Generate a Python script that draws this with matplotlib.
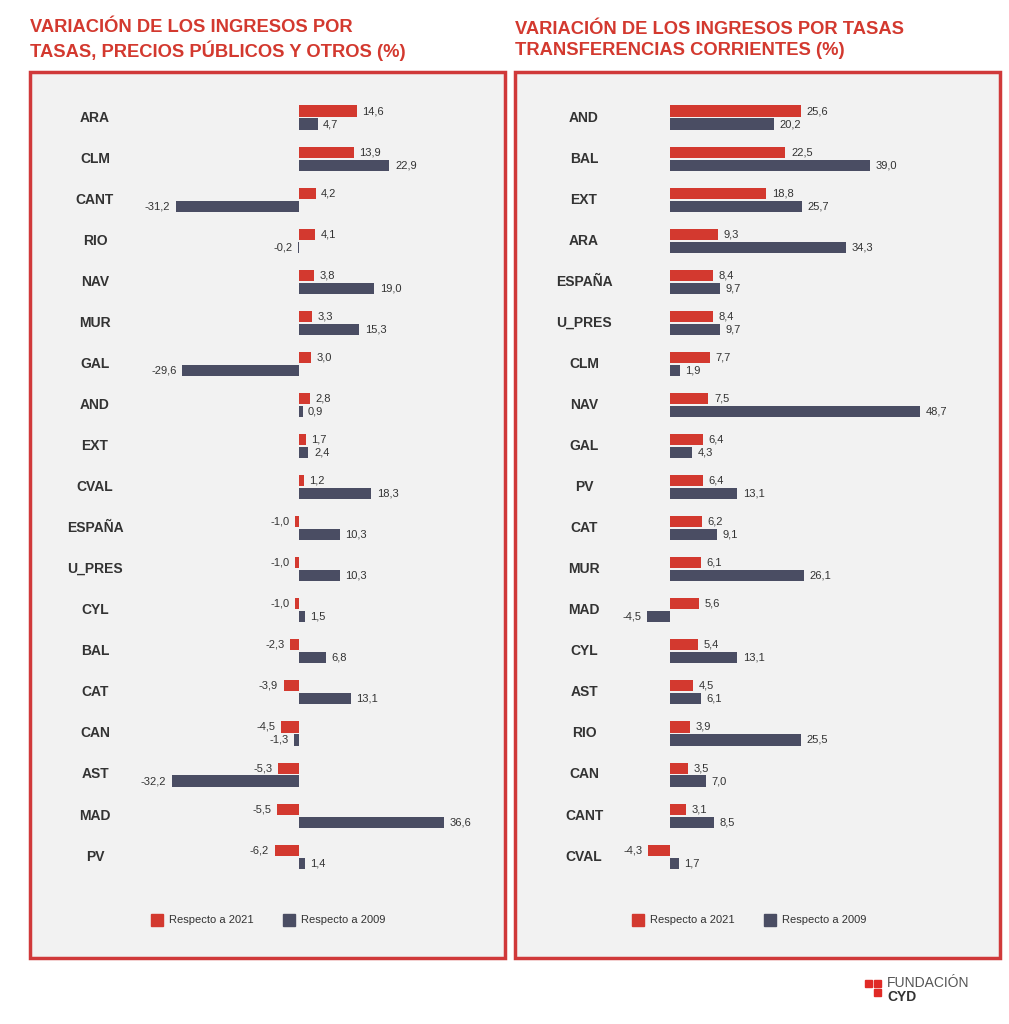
import matplotlib.pyplot as plt
from matplotlib.patches import Rectangle

plt.rcParams['font.family'] = ['Liberation Sans', 'DejaVu Sans']

# left panel data
left_cats = ["ARA", "CLM", "CANT", "RIO", "NAV", "MUR", "GAL", "AND", "EXT", "CVAL",
             "ESPAÑA", "U_PRES", "CYL", "BAL", "CAT", "CAN", "AST", "MAD", "PV"]
left_2021 = [14.6, 13.9, 4.2, 4.1, 3.8, 3.3, 3.0, 2.8, 1.7, 1.2,
             -1.0, -1.0, -1.0, -2.3, -3.9, -4.5, -5.3, -5.5, -6.2]
left_2009 = [4.7, 22.9, -31.2, -0.2, 19.0, 15.3, -29.6, 0.9, 2.4, 18.3,
             10.3, 10.3, 1.5, 6.8, 13.1, -1.3, -32.2, 36.6, 1.4]

# right panel data
right_cats = ["AND", "BAL", "EXT", "ARA", "ESPAÑA", "U_PRES", "CLM", "NAV", "GAL", "PV",
              "CAT", "MUR", "MAD", "CYL", "AST", "RIO", "CAN", "CANT", "CVAL"]
right_2021 = [25.6, 22.5, 18.8, 9.3, 8.4, 8.4, 7.7, 7.5, 6.4, 6.4,
              6.2, 6.1, 5.6, 5.4, 4.5, 3.9, 3.5, 3.1, -4.3]
right_2009 = [20.2, 39.0, 25.7, 34.3, 9.7, 9.7, 1.9, 48.7, 4.3, 13.1,
              9.1, 26.1, -4.5, 13.1, 6.1, 25.5, 7.0, 8.5, 1.7]

RED = "#d3392f"
NAVY = "#4a4d63"
W, H = 1009, 1024
fig = plt.figure(figsize=(W / 100, H / 100), dpi=100)


def fx(px):
    return px / W


def fy(py):
    return 1 - py / H


def panel(x0, x1, zero, scale, label_x, cats, v21, v09, title, leg_x):
    # background box
    fig.patches.append(Rectangle((fx(x0), fy(958)), fx(x1 - x0), (958 - 72) / H,
                                 transform=fig.transFigure, facecolor="#f2f2f2",
                                 edgecolor="#d0393a", lw=2.5, zorder=-1))
    ax_l, ax_r = x0 + 10, x1 - 10
    ax = fig.add_axes([fx(ax_l), fy(885), fx(ax_r - ax_l), (885 - 90) / H])
    ax.set_zorder(2)
    ax.set_xlim((ax_l - zero) / scale, (ax_r - zero) / scale)
    ax.set_ylim(18.69, -0.67)
    ax.axis("off")
    off, h = 0.158, 0.27
    for i, c in enumerate(cats):
        ax.barh(i - off, v21[i], height=h, color=RED)
        ax.barh(i + off, v09[i], height=h, color=NAVY)
        for v, y in ((v21[i], i - off), (v09[i], i + off)):
            s = f"{v:.1f}".replace(".", ",")
            ax.annotate(s, (v, y), xytext=(4 if v >= 0 else -4, 0), textcoords="offset points",
                        ha="left" if v >= 0 else "right", va="center", fontsize=8, color="#333333")
        fig.text(fx(label_x), fy(117.5 + 41.06 * i), c, ha="center", va="center",
                 fontsize=10, fontweight="bold", color="#333333")
    fig.text(fx(x0), fy(40), title, ha="left", va="center", fontsize=13.2,
             fontweight="bold", color=RED, linespacing=1.25)
    for k, (lab, col) in enumerate((("Respecto a 2021", RED), ("Respecto a 2009", NAVY))):
        lx = leg_x + k * 132
        fig.patches.append(Rectangle((fx(lx - 6), fy(926)), fx(12), 12 / H,
                                     transform=fig.transFigure, color=col))
        fig.text(fx(lx + 12), fy(920), lab, ha="left", va="center", fontsize=8, color="#333333")


panel(30, 505, 299, 3.95, 95, left_cats, left_2021, left_2009,
      "VARIACIÓN DE LOS INGRESOS POR\nTASAS, PRECIOS PÚBLICOS Y OTROS (%)", 157)
panel(515, 1000, 670, 5.13, 584, right_cats, right_2021, right_2009,
      "VARIACIÓN DE LOS INGRESOS POR TASAS\nTRANSFERENCIAS CORRIENTES (%)", 638)

# logo
for (lx, ly) in ((865, 980), (874, 980), (874, 989)):
    fig.patches.append(Rectangle((fx(lx), fy(ly + 7)), fx(7), 7 / H,
                                 transform=fig.transFigure, color="#e02a26"))
fig.text(fx(887), fy(983), "FUNDACIÓN", fontsize=10, color="#555555", va="center")
fig.text(fx(887), fy(997), "CYD", fontsize=10, fontweight="bold", color="#333333", va="center")

fig.savefig("out.png", dpi=100, facecolor="white")
